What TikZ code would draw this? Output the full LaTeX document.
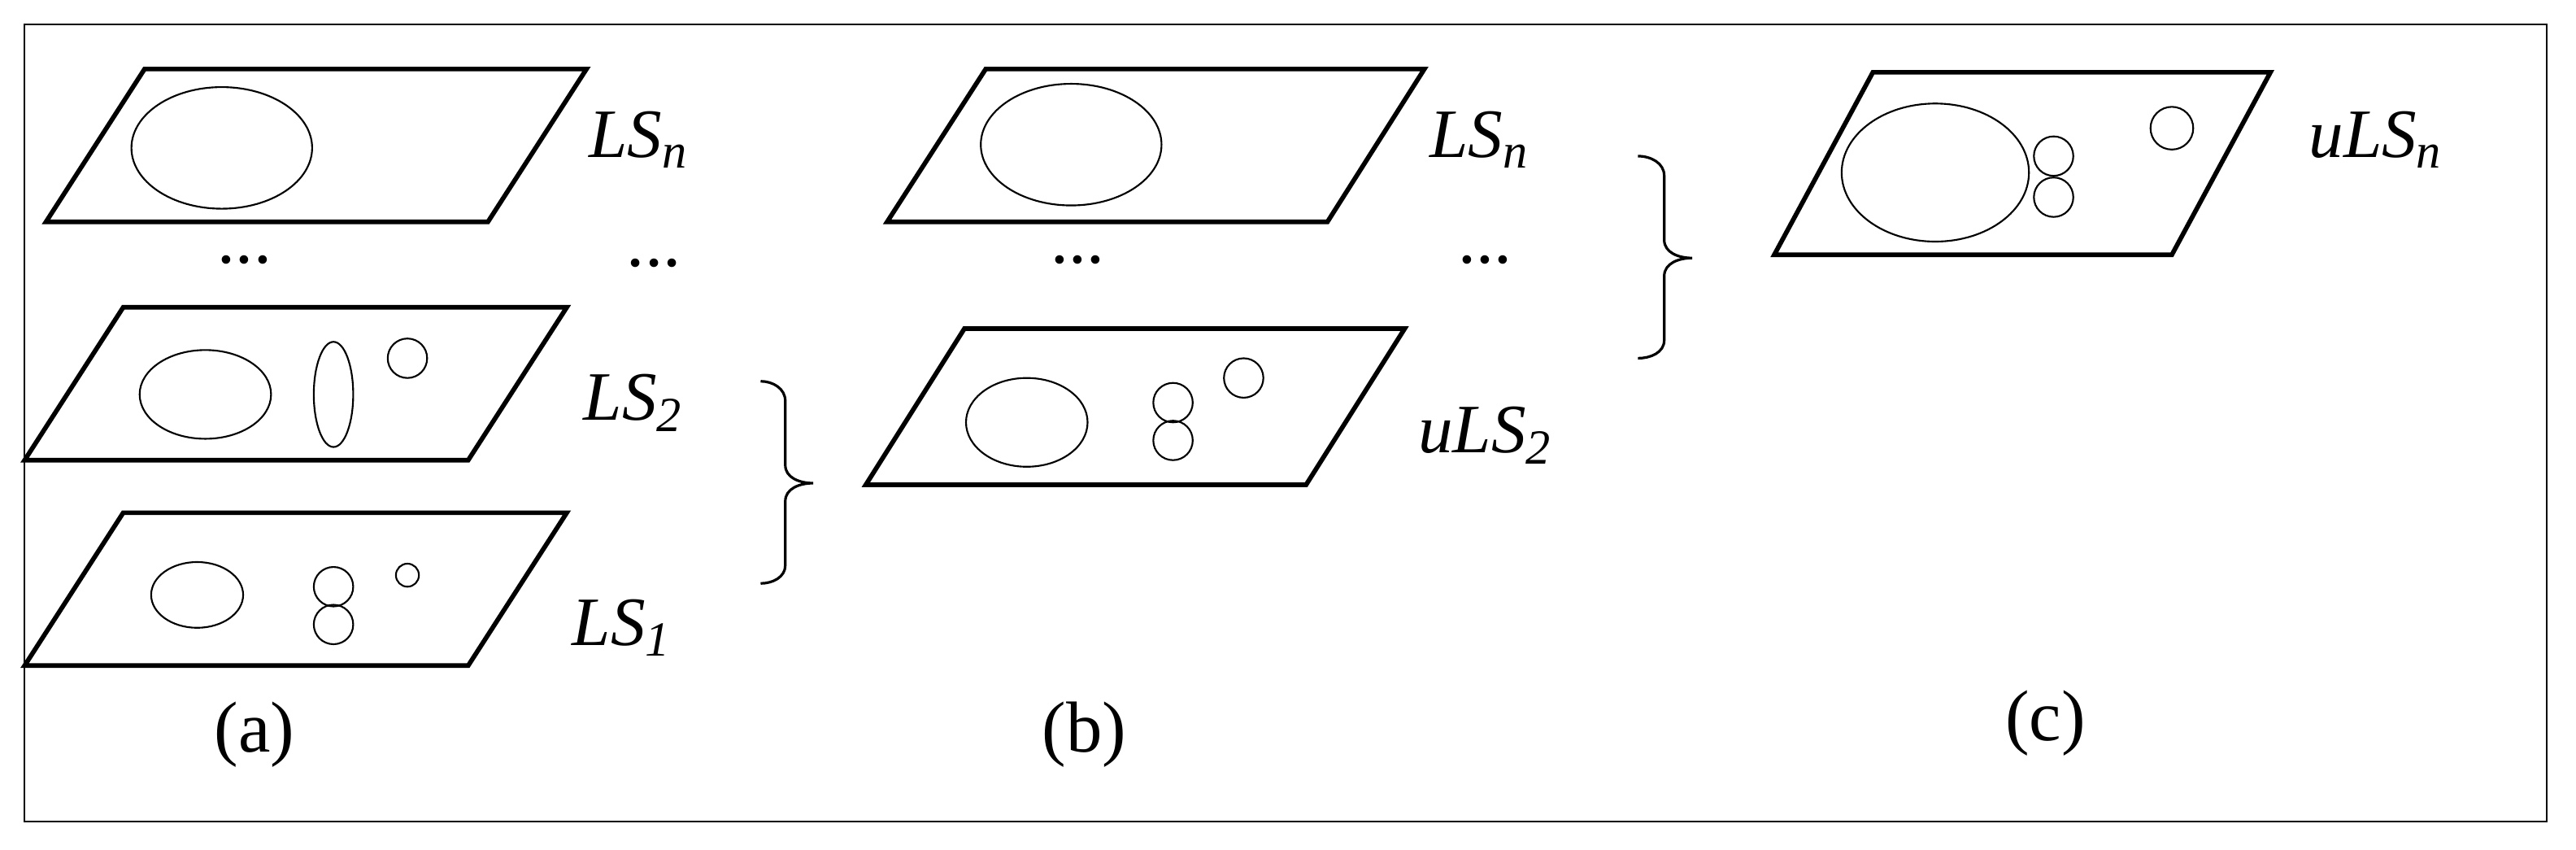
\documentclass[tikz,border=0pt]{standalone}
\usepackage{fontspec}
\setmainfont{Liberation Serif}
\newcommand{\sbs}[1]{\raisebox{-0.35ex}{\fontsize{17}{17}\selectfont #1}}
\begin{document}
\begin{tikzpicture}[x=0.02cm,y=-0.02cm,
  plane/.style={line width=1.6pt,line join=miter},
  blob/.style={line width=0.6pt},
  lbl/.style={font=\fontsize{24}{28}\selectfont\itshape,anchor=west,inner sep=0},
  captxt/.style={font=\fontsize{25}{28}\selectfont,inner sep=0},
  brc/.style={line width=0.9pt}]
\useasboundingbox (0,0) rectangle (1568,517);
\draw[line width=0.6pt] (15,15) rectangle (1550,500);
% panel a
\draw[plane] (88,42) -- (357,42) -- (297,135) -- (28,135) -- cycle;
\draw[blob] (135,90) ellipse [x radius=55,y radius=37];
\node[captxt] (da) at (150,158) {\textit{...}};
\node[captxt] (da2) at (398,160) {...};
\draw[plane] (75,187) -- (345,187) -- (285,280) -- (15,280) -- cycle;
\draw[blob] (125,240) ellipse [x radius=40,y radius=27];
\draw[blob] (203,240) ellipse [x radius=12,y radius=32];
\draw[blob] (248,218) circle [radius=12];
\draw[plane] (75,312) -- (345,312) -- (285,405) -- (15,405) -- cycle;
\draw[blob] (120,362) ellipse [x radius=28,y radius=20];
\draw[blob] (203,357) circle [radius=12];
\draw[blob] (203,380) circle [radius=12];
\draw[blob] (248,350) circle [radius=7];
\node[lbl] (l1) at (358,85) {LS\sbs{n}};
\node[lbl] (l2) at (355,245) {LS\sbs{2}};
\node[lbl] (l3) at (348,382) {LS\sbs{1}};
\draw[brc] (463,232) to[out=0,in=90] (478,244) -- (478,283) to[out=-90,in=180] (495,294)
  to[out=180,in=90] (478,305) -- (478,344) to[out=-90,in=0] (463,355);
\node[captxt] (ca) at (155,447) {(a)};
% panel b
\draw[plane] (600,42) -- (867,42) -- (808,135) -- (540,135) -- cycle;
\draw[blob] (652,88) ellipse [x radius=55,y radius=37];
\node[captxt] (db) at (657,158) {\textit{...}};
\node[captxt] (db2) at (905,158) {\textit{...}};
\draw[plane] (587,200) -- (855,200) -- (795,295) -- (527,295) -- cycle;
\draw[blob] (625,257) ellipse [x radius=37,y radius=27];
\draw[blob] (714,245) circle [radius=12];
\draw[blob] (714,268) circle [radius=12];
\draw[blob] (757,230) circle [radius=12];
\node[lbl] (l4) at (870,85) {LS\sbs{n}};
\node[lbl] (l5) at (863,265) {uLS\sbs{2}};
\draw[brc] (997,95) to[out=0,in=90] (1013,107) -- (1013,146) to[out=-90,in=180] (1030,157)
  to[out=180,in=90] (1013,168) -- (1013,207) to[out=-90,in=0] (997,218);
\node[captxt] (cb) at (660,447) {(b)};
% panel c
\draw[plane] (1140,44) -- (1382,44) -- (1322,155) -- (1080,155) -- cycle;
\draw[blob] (1178,105) ellipse [x radius=57,y radius=42];
\draw[blob] (1250,95) circle [radius=12];
\draw[blob] (1250,120) circle [radius=12];
\draw[blob] (1322,78) circle [radius=13];
\node[lbl] (l6) at (1405,85) {uLS\sbs{n}};
\node[captxt] (cc) at (1245,440) {(c)};
\end{tikzpicture}
\end{document}
